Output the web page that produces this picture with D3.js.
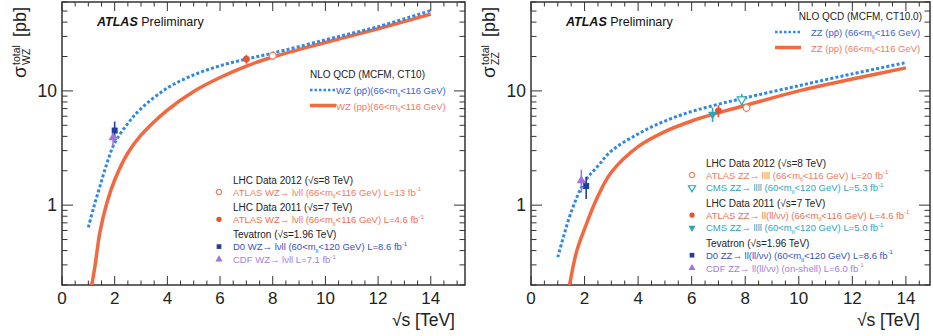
<!DOCTYPE html>
<html>
<head>
<meta charset="utf-8">
<script src="https://cdn.jsdelivr.net/npm/d3@7"></script>
<style>
  body { margin: 0; background: #fff; }
  svg { display: block; font-family: "Liberation Sans", Arial, sans-serif; }
</style>
</head>
<body>
<svg id="chart" width="933" height="336"></svg>
<script>
// ---- data ----
const xTickValues = [0, 2, 4, 6, 8, 10, 12, 14];
const yTickLabels = [1, 10];

// WZ theory curves (NLO QCD, MCFM CT10)
const wzPpbarX = [1, 1.2, 1.44, 1.7, 2, 2.5, 3, 4, 5, 6, 7, 8, 10, 12, 14];
const wzPpbarY = [0.64, 0.95, 1.46, 2.3, 3.5, 5.2, 7.0, 10.6, 13.8, 16.6, 19.0, 21.4, 28.0, 36.5, 50.5];
const wzPpX = [1.13, 1.25, 1.44, 1.7, 2, 2.5, 3, 4, 5, 6, 7, 8, 10, 12, 14];
const wzPpY = [0.2, 0.29, 0.58, 1.04, 1.66, 2.86, 4.1, 6.8, 9.9, 13.1, 16.5, 19.8, 26.5, 35, 47];

// ZZ theory curves (NLO QCD, MCFM CT10.0)
const zzPpbarX = [1, 1.5, 2, 2.5, 3, 4, 5, 6, 7, 8, 10, 12, 14];
const zzPpbarY = [0.35, 0.87, 1.6, 2.2, 2.98, 4.2, 5.45, 6.6, 7.65, 8.7, 11.1, 14.1, 17.7];
const zzPpX = [1.44, 1.7, 2, 2.5, 3, 4, 5, 6, 7, 8, 10, 12, 14];
const zzPpY = [0.2, 0.39, 0.62, 1.2, 1.94, 3.25, 4.4, 5.45, 6.45, 7.45, 10, 12.7, 15.9];

// WZ measurements: ATLAS 2012, ATLAS 2011, D0, CDF
const wzMeasX = [8.0, 7.0, 2.0, 1.94];
const wzMeasY = [20.3, 19.0, 4.5, 3.9];
const wzMeasErrLo = [1.5, 1.7, 0.8, 0.6];
const wzMeasErrHi = [1.5, 1.7, 0.9, 0.6];
const wzMeasMarker = ["openCircle", "circle", "square", "triangle"];
const wzMeasColor = ["#f27a5e", "#e9512f", "#1e3f9e", "#a472d8"];

// ZZ measurements: ATLAS 2012, CMS 2012, ATLAS 2011, CMS 2011, D0, CDF
const zzMeasX = [8.05, 7.87, 7.0, 6.78, 2.06, 1.88];
const zzMeasY = [7.1, 8.4, 6.7, 6.24, 1.47, 1.64];
const zzMeasErrLo = [0.6, 1.0, 0.8, 0.9, 0.34, 0.35];
const zzMeasErrHi = [0.6, 1.0, 0.8, 0.9, 0.3, 0.4];
const zzMeasMarker = ["openCircle", "openTriDown", "circle", "triDown", "square", "triangle"];
const zzMeasColor = ["#f27a5e", "#2aa6b8", "#e9512f", "#2aa6b8", "#1e3f9e", "#a472d8"];

// legend texts
const wzTheoryHeader = "NLO QCD (MCFM, CT10)";
const wzTheoryLabels = ["WZ (pp\u0304)(66<m_{ll}<116 GeV)", "WZ (pp)(66<m_{ll}<116 GeV)"];
const zzTheoryHeader = "NLO QCD (MCFM, CT10.0)";
const zzTheoryLabels = ["ZZ (pp\u0304) (66<m_{ll}<116 GeV)", "ZZ (pp) (66<m_{ll}<116 GeV)"];

const legendHeaders = ["LHC Data 2012 (\u221As=8 TeV)", "LHC Data 2011 (\u221As=7 TeV)", "Tevatron (\u221As=1.96 TeV)"];
const wzLegendRows = [
  ["ATLAS WZ\u2192 l\u03BDll (66<m_{ll}<116 GeV) L=13 fb^{-1}"],
  ["ATLAS WZ\u2192 l\u03BDll (66<m_{ll}<116 GeV) L=4.6 fb^{-1}"],
  ["D0 WZ\u2192 l\u03BDll (60<m_{ll}<120 GeV) L=8.6 fb^{-1}", "CDF WZ\u2192 l\u03BDll  L=7.1 fb^{-1}"]
];
const wzLegendRowIdx = [[0], [1], [2, 3]];
const zzLegendRows = [
  ["ATLAS ZZ\u2192 llll (66<m_{ll}<116 GeV) L=20 fb^{-1}", "CMS ZZ\u2192 llll (60<m_{ll}<120 GeV) L=5.3 fb^{-1}"],
  ["ATLAS ZZ\u2192 ll(ll/\u03BD\u03BD) (66<m_{ll}<116 GeV) L=4.6 fb^{-1}", "CMS ZZ\u2192 llll (60<m_{ll}<120 GeV) L=5.0 fb^{-1}"],
  ["D0 ZZ\u2192 ll(ll/\u03BD\u03BD) (60<m_{ll}<120 GeV) L=8.6 fb^{-1}", "CDF ZZ\u2192 ll(ll/\u03BD\u03BD) (on-shell) L=6.0 fb^{-1}"]
];
const zzLegendRowIdx = [[0, 1], [2, 3], [4, 5]];

// ---- drawing ----
const RED = "#f2683f";
const BLUE = "#2f88e2";
const svg = d3.select("#chart");

function richText(sel, str, size) {
  const parts = str.split(/(_\{[^}]*\}|\^\{[^}]*\})/).filter(s => s.length);
  let shift = 0;
  parts.forEach(p => {
    let dy = 0, fs = size, t = p;
    if (p.startsWith("_{")) { t = p.slice(2, -1); dy = size * 0.3; fs = size * 0.65; }
    else if (p.startsWith("^{")) { t = p.slice(2, -1); dy = -size * 0.45; fs = size * 0.65; }
    sel.append("tspan").attr("dy", dy - shift).attr("font-size", fs).text(t);
    shift = dy;
  });
}

function marker(g, type, color, cx, cy, s) {
  const sym = { circle: d3.symbolCircle, openCircle: d3.symbolCircle, square: d3.symbolSquare,
    triangle: d3.symbolTriangle, triDown: d3.symbolTriangle, openTriDown: d3.symbolTriangle }[type];
  const open = type.startsWith("open");
  const rot = type.toLowerCase().includes("tridown") ? 180 : 0;
  g.append("path")
    .attr("d", d3.symbol().type(sym).size(s)())
    .attr("transform", `translate(${cx},${cy}) rotate(${rot})`)
    .attr("fill", open ? "#fff" : color)
    .attr("stroke", color)
    .attr("stroke-width", open ? 1.2 : 0);
}

function drawPanel(cfg) {
  const g = svg.append("g");
  const x = d3.scaleLinear().domain([0, cfg.xMax]).range([cfg.left, cfg.right]);
  const y = d3.scaleLog().domain([0.2, 60]).range([cfg.bottom, cfg.top]);

  const clipId = "clip" + cfg.name;
  g.append("clipPath").attr("id", clipId).append("rect")
    .attr("x", cfg.left).attr("y", cfg.top)
    .attr("width", cfg.right - cfg.left).attr("height", cfg.bottom - cfg.top);

  // ticks: x minor every 0.5, major every 2; y log
  const xMinor = d3.range(0, cfg.xMax, 0.5);
  const yMinor = [];
  [0.1, 1, 10].forEach(dec => d3.range(1, 10).forEach(k => {
    const v = dec * k; if (v >= 0.2 && v <= 60) yMinor.push(v);
  }));
  const tk = g.append("g").attr("stroke", "#333").attr("stroke-width", 1);
  xMinor.forEach(v => {
    const len = xTickValues.includes(v) ? 9 : 4.5;
    tk.append("line").attr("x1", x(v)).attr("x2", x(v)).attr("y1", cfg.bottom).attr("y2", cfg.bottom - len);
    tk.append("line").attr("x1", x(v)).attr("x2", x(v)).attr("y1", cfg.top).attr("y2", cfg.top + len);
  });
  yMinor.forEach(v => {
    const len = yTickLabels.includes(v) ? 11 : 5.5;
    tk.append("line").attr("x1", cfg.left).attr("x2", cfg.left + len).attr("y1", y(v)).attr("y2", y(v));
    tk.append("line").attr("x1", cfg.right).attr("x2", cfg.right - len).attr("y1", y(v)).attr("y2", y(v));
  });

  g.append("rect")
    .attr("x", cfg.left).attr("y", cfg.top)
    .attr("width", cfg.right - cfg.left).attr("height", cfg.bottom - cfg.top)
    .attr("fill", "none").attr("stroke", "#333").attr("stroke-width", 1.5);

  // tick labels
  g.selectAll(".xl").data(xTickValues).enter().append("text")
    .attr("x", d => x(d)).attr("y", cfg.bottom + 19)
    .attr("text-anchor", "middle").attr("font-size", 17).attr("fill", "#222")
    .text(d => d);
  g.selectAll(".yl").data(yTickLabels).enter().append("text")
    .attr("x", cfg.left - 5).attr("y", d => y(d) + 6)
    .attr("text-anchor", "end").attr("font-size", 17.5).attr("fill", "#222")
    .text(d => d);

  // axis titles
  g.append("text").attr("x", cfg.right - 10).attr("y", 326)
    .attr("text-anchor", "end").attr("font-size", 17.5).attr("fill", "#222")
    .text("\u221As [TeV]");
  const yt = g.append("g").attr("transform", `translate(${cfg.left - 36},78) rotate(-90)`).attr("fill", "#222");
  yt.append("text").attr("x", 0).attr("y", 0).attr("font-size", 19).text("\u03C3");
  yt.append("text").attr("x", 13).attr("y", -6).attr("font-size", 10.5).text("total");
  yt.append("text").attr("x", 13).attr("y", 4).attr("font-size", 10.5).text(cfg.name);
  yt.append("text").attr("x", 41).attr("y", 0).attr("font-size", 18).text("[pb]");

  // ATLAS Preliminary
  const at = g.append("text").attr("x", cfg.left + 35).attr("y", 26).attr("font-size", 12.5).attr("fill", "#111");
  at.append("tspan").attr("font-weight", "bold").attr("font-style", "italic").text("ATLAS");
  at.append("tspan").text(" Preliminary");

  // theory curves
  const line = d3.line().x(d => x(d[0])).y(d => y(d[1])).curve(d3.curveCatmullRom.alpha(0.5));
  const cg = g.append("g").attr("clip-path", `url(#${clipId})`);
  cg.append("path").datum(d3.zip(cfg.ppX, cfg.ppY)).attr("d", line)
    .attr("fill", "none").attr("stroke", RED).attr("stroke-width", 3.5);
  cg.append("path").datum(d3.zip(cfg.ppbarX, cfg.ppbarY)).attr("d", line)
    .attr("fill", "none").attr("stroke", BLUE).attr("stroke-width", 3).attr("stroke-dasharray", "3,2.2");

  // measurements
  const mg = g.append("g");
  cfg.mX.forEach((mx, i) => {
    mg.append("line").attr("x1", x(mx)).attr("x2", x(mx))
      .attr("y1", y(cfg.mY[i] - cfg.mLo[i])).attr("y2", y(cfg.mY[i] + cfg.mHi[i]))
      .attr("stroke", cfg.mColor[i]).attr("stroke-width", 1.6);
  });
  cfg.mX.forEach((mx, i) => marker(mg, cfg.mMarker[i], cfg.mColor[i], x(mx), y(cfg.mY[i]), 36));

  // theory legend
  const lg = g.append("g");
  lg.append("text").attr("x", cfg.thX).attr("y", cfg.thY).attr("font-size", 10).attr("fill", "#222")
    .attr("text-anchor", cfg.thAnchor).text(cfg.thHeader);
  [BLUE, RED].forEach((c, i) => {
    const yy = cfg.thY + 12 + i * 15.5;
    lg.append("line").attr("x1", cfg.thLineX).attr("x2", cfg.thLineX + 26)
      .attr("y1", yy).attr("y2", yy).attr("stroke", c)
      .attr("stroke-width", i === 0 ? 2.5 : 3.5).attr("stroke-dasharray", i === 0 ? "2.5,2" : null);
    const t = lg.append("text").attr("x", cfg.thTextX).attr("y", yy + 4).attr("font-size", 9.5)
      .attr("fill", i === 0 ? "#3a5fd0" : "#f27a5e");
    richText(t, cfg.thLabels[i], 9.5);
  });

  // data legend
  let yy = cfg.dataY;
  const textColors = { "#f27a5e": "#f27a5e", "#e9512f": "#f0704e", "#1e3f9e": "#3552c4", "#a472d8": "#a47ee0", "#2aa6b8": "#2aa6c0" };
  legendHeaders.forEach((h, k) => {
    lg.append("text").attr("x", cfg.dataTextX).attr("y", yy + 3.5).attr("font-size", 10).attr("fill", "#222").text(h);
    yy += 12;
    cfg.rows[k].forEach((r, j) => {
      const mi = cfg.rowIdx[k][j];
      marker(lg, cfg.mMarker[mi], cfg.mColor[mi], cfg.dataMarkX, yy, 22);
      const t = lg.append("text").attr("x", cfg.dataTextX).attr("y", yy + 3.5).attr("font-size", 9.5)
        .attr("fill", textColors[cfg.mColor[mi]]);
      richText(t, r, 9.5);
      yy += 12.8;
    });
    yy += 2.5;
  });
}

drawPanel({
  name: "WZ", left: 62, right: 465, top: 2, bottom: 285, xMax: 15.3,
  ppX: wzPpX, ppY: wzPpY, ppbarX: wzPpbarX, ppbarY: wzPpbarY,
  mX: wzMeasX, mY: wzMeasY, mLo: wzMeasErrLo, mHi: wzMeasErrHi, mMarker: wzMeasMarker, mColor: wzMeasColor,
  thHeader: wzTheoryHeader, thLabels: wzTheoryLabels, thX: 310, thY: 78, thAnchor: "start", thLineX: 310, thTextX: 336,
  rows: wzLegendRows, rowIdx: wzLegendRowIdx, dataY: 180, dataMarkX: 219, dataTextX: 233
});

drawPanel({
  name: "ZZ", left: 531, right: 930, top: 2, bottom: 285, xMax: 14.9,
  ppX: zzPpX, ppY: zzPpY, ppbarX: zzPpbarX, ppbarY: zzPpbarY,
  mX: zzMeasX, mY: zzMeasY, mLo: zzMeasErrLo, mHi: zzMeasErrHi, mMarker: zzMeasMarker, mColor: zzMeasColor,
  thHeader: zzTheoryHeader, thLabels: zzTheoryLabels, thX: 922, thY: 20, thAnchor: "end", thLineX: 775, thTextX: 811,
  rows: zzLegendRows, rowIdx: zzLegendRowIdx, dataY: 163, dataMarkX: 692, dataTextX: 706
});
</script>
</body>
</html>
